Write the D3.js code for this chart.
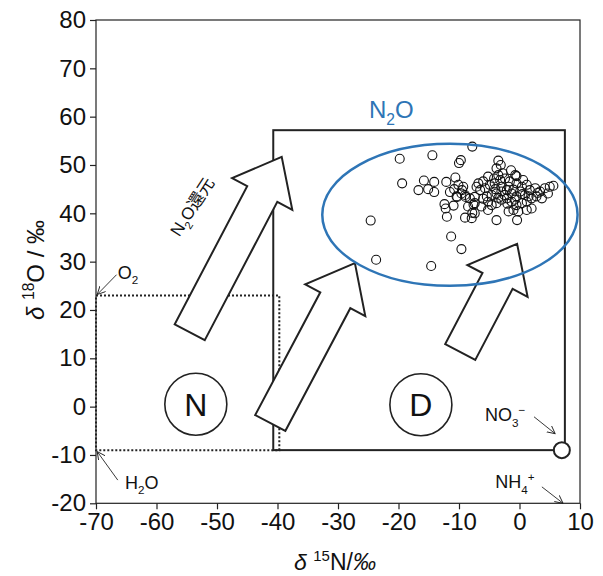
<!DOCTYPE html>
<html>
<head>
<meta charset="utf-8">
<script src="https://cdn.jsdelivr.net/npm/d3@7"></script>
<style>
body { margin: 0; background: #fff; }
svg { font-family: "Liberation Sans", Arial, sans-serif; }
</style>
</head>
<body>
<svg id="chart" width="603" height="576"></svg>
<script>
"use strict";

// axis ticks
var xTicks = [-70, -60, -50, -40, -30, -20, -10, 0, 10];
var yTicks = [-20, -10, 0, 10, 20, 30, 40, 50, 60, 70, 80];

// measured N2O (delta15N, delta18O)
var n2oD15N = [-7.8, -19.8, -14.4, -9.7, -10.0, -19.4, -15.8, -14.1, -12.1, -10.6,
    -16.7, -15.1, -14.1, -11.5, -10.8, -9.5, -10.3, -8.9, -8.2, -7.4,
    -12.4, -12.2, -10.9, -7.6, -12.0, -9.0, -7.8, -24.6, -3.8, -0.4,
    -11.3, -9.6, -23.7, -14.6,
    -3.5, -3.1, -3.8, -2.8, -3.5, -4.2, -5.2, -6.0, -6.8, -7.1,
    -6.5, -5.7, -4.9, -4.1, -3.2, -2.4, -1.6, -0.7, -0.5, 0.4,
    1.2, 0.6, 0.1, 0.9, 1.7, 2.6, 3.4, 4.2, 5.0, 5.6,
    4.7, 3.7, 2.8, 2.0, 1.2, 0.4, -0.5, -1.3, -2.1, -3.0,
    -3.8, -4.6, -5.2, -5.4, -4.6, -3.8, -3.0, -2.1, -1.3, -0.5,
    -1.8, -1.0, -0.2, 1.2, 2.0, -5.2, -6.3, -7.4, -9.0, -9.6,
    -9.3, -10.1, -10.4, -8.5, -7.4, -7.9, -3.0, -1.8, -1.4, -0.5,
    -4.0, -2.5, -1.0, 0.5, -6.0, -2.0, 1.5, -3.5, -0.8, 3.0];
var n2oD18O = [53.8, 51.3, 52.0, 51.0, 50.4, 46.2, 46.8, 46.5, 46.5, 47.4,
    44.8, 45.0, 44.4, 44.4, 45.0, 44.8, 43.4, 43.4, 43.1, 43.4,
    41.9, 41.0, 41.6, 41.8, 39.3, 39.1, 40.1, 38.5, 38.6, 38.6,
    35.2, 32.6, 30.4, 29.1,
    50.9, 50.0, 49.3, 48.3, 47.9, 47.2, 47.6, 46.6, 46.2, 45.5,
    44.8, 45.2, 45.9, 46.2, 46.9, 47.2, 46.6, 47.9, 46.2, 45.5,
    45.9, 46.9, 44.5, 43.8, 44.8, 45.2, 44.5, 45.2, 45.5, 45.7,
    44.1, 43.1, 43.5, 43.1, 42.4, 42.1, 41.7, 42.4, 43.1, 42.8,
    42.1, 41.7, 42.4, 43.5, 43.8, 44.1, 44.5, 44.8, 44.1, 43.5,
    40.4, 40.7, 40.4, 40.7, 41.0, 40.7, 41.4, 42.1, 43.8, 44.1,
    45.5, 45.9, 43.5, 41.4, 40.0, 39.0, 45.5, 45.5, 48.9, 47.7,
    45.0, 43.8, 44.9, 44.0, 43.0, 42.0, 43.5, 43.2, 42.8, 44.2];

// source ranges
var n2oBoxX = [-40.7, 7.5];
var n2oBoxY = [-9, 57.2];
var nitrBoxX = [-70, -39.7];
var nitrBoxY = [-9, 23];
var n2oEllipseCenter = [-11.5, 39.7];
var n2oEllipseRadius = [21.1, 14.7];
var no3Point = [7.0, -9.0];

// process arrows (tail -> tip)
var arrowTail = [[-54.5, 15.4], [-41.2, -3.4], [-9.8, 11.3]];
var arrowTip = [[-39.3, 51.7], [-27.2, 29.7], [-0.4, 33.7]];

// zone labels
var zoneNames = ["N", "D"];
var zoneCenters = [[-53.5, 0.5], [-16.3, 0.4]];

var svg = d3.select("#chart");
var ink = "#222";
var blue = "#2e75b6";

var x = d3.scaleLinear().domain([-70, 10]).range([96, 580]);
var y = d3.scaleLinear().domain([-20, 80]).range([503.3, 20]);

// arrow marker for the small leader lines
svg.append("defs").append("marker")
    .attr("id", "leader")
    .attr("markerUnits", "userSpaceOnUse")
    .attr("markerWidth", 10).attr("markerHeight", 10)
    .attr("refX", 8).attr("refY", 4)
    .attr("orient", "auto")
    .append("path")
    .attr("d", "M0,0 L8,4 L0,8")
    .attr("fill", "none")
    .attr("stroke", ink)
    .attr("stroke-width", 0.9);

// text with sub / superscripts
function richText(sel, parts, size)
{
    var shift = 0;
    parts.forEach(function(p){
        var t = sel.append("tspan").text(p[0]);
        var target = 0;
        if (p[1] == "sub") { target = size * 0.3; t.attr("font-size", size * 0.65); }
        if (p[1] == "sup") { target = -size * 0.4; t.attr("font-size", size * 0.65); }
        if (p[1] == "it") { t.attr("font-style", "italic"); }
        if (target != shift) { t.attr("dy", target - shift); shift = target; }
    });
}

// plot frame
svg.append("rect")
    .attr("x", x(-70)).attr("y", y(80))
    .attr("width", x(10) - x(-70)).attr("height", y(-20) - y(80))
    .attr("fill", "none").attr("stroke", ink).attr("stroke-width", 1.2);

// minor ticks (inside)
var xMinor = d3.range(-70, 10.01, 2).filter(function(d){ return d % 10 != 0; });
var yMinor = d3.range(-20, 80.01, 2).filter(function(d){ return d % 10 != 0; });

var gx = svg.append("g").attr("transform", "translate(0," + y(-20) + ")");
gx.call(d3.axisBottom(x).tickValues(xMinor).tickSize(-4).tickFormat(""));
gx.call(d3.axisBottom(x).tickValues(xTicks).tickSize(6).tickPadding(4)
    .tickFormat(function(d){ return String(d); }));
gx.selectAll(".domain").remove();
gx.selectAll("line").attr("stroke", ink).attr("stroke-width", 1.2);
gx.selectAll("text").attr("font-size", 24).attr("font-family", "Liberation Sans, Arial, sans-serif").attr("fill", "#111");

var gy = svg.append("g").attr("transform", "translate(" + x(-70) + ",0)");
gy.call(d3.axisLeft(y).tickValues(yMinor).tickSize(-4).tickFormat(""));
gy.call(d3.axisLeft(y).tickValues(yTicks).tickSize(6).tickPadding(4)
    .tickFormat(function(d){ return String(d); }));
gy.selectAll(".domain").remove();
gy.selectAll("line").attr("stroke", ink).attr("stroke-width", 1.2);
gy.selectAll("text").attr("font-size", 24).attr("font-family", "Liberation Sans, Arial, sans-serif").attr("fill", "#111");

// nitrification range (dotted)
svg.append("rect")
    .attr("x", x(nitrBoxX[0])).attr("y", y(nitrBoxY[1]))
    .attr("width", x(nitrBoxX[1]) - x(nitrBoxX[0]))
    .attr("height", y(nitrBoxY[0]) - y(nitrBoxY[1]))
    .attr("fill", "none").attr("stroke", ink)
    .attr("stroke-width", 2).attr("stroke-dasharray", "2,2");

// N2O range (solid)
svg.append("rect")
    .attr("x", x(n2oBoxX[0])).attr("y", y(n2oBoxY[1]))
    .attr("width", x(n2oBoxX[1]) - x(n2oBoxX[0]))
    .attr("height", y(n2oBoxY[0]) - y(n2oBoxY[1]))
    .attr("fill", "none").attr("stroke", ink).attr("stroke-width", 2);

// data points
svg.append("g").selectAll("circle")
    .data(d3.range(n2oD15N.length))
    .enter()
    .append("circle")
    .attr("cx", function(i){ return x(n2oD15N[i]); })
    .attr("cy", function(i){ return y(n2oD18O[i]); })
    .attr("r", 4.5)
    .attr("fill", "none")
    .attr("stroke", "#111")
    .attr("stroke-width", 1.1);

// block arrows
function blockArrow(t, h)
{
    var dx = h[0] - t[0], dy = h[1] - t[1];
    var len = Math.sqrt(dx * dx + dy * dy);
    var ux = dx / len, uy = dy / len;
    var nx = -uy, ny = ux;
    var sw = 17, hw = 34, hl = 42;
    var b = [h[0] - ux * hl, h[1] - uy * hl];
    var pts = [
        [t[0] + nx * sw, t[1] + ny * sw],
        [b[0] + nx * sw, b[1] + ny * sw],
        [b[0] + nx * hw, b[1] + ny * hw],
        h,
        [b[0] - nx * hw, b[1] - ny * hw],
        [b[0] - nx * sw, b[1] - ny * sw],
        [t[0] - nx * sw, t[1] - ny * sw]
    ];
    return "M" + pts.map(function(p){ return p[0].toFixed(1) + "," + p[1].toFixed(1); }).join("L") + "Z";
}

svg.append("g").selectAll("path")
    .data(d3.range(arrowTail.length))
    .enter()
    .append("path")
    .attr("d", function(i){
        return blockArrow([x(arrowTail[i][0]), y(arrowTail[i][1])],
                          [x(arrowTip[i][0]), y(arrowTip[i][1])]);
    })
    .attr("fill", "#fff")
    .attr("stroke", ink)
    .attr("stroke-width", 2)
    .attr("stroke-linejoin", "miter");

// N2O ellipse
svg.append("ellipse")
    .attr("cx", x(n2oEllipseCenter[0]))
    .attr("cy", y(n2oEllipseCenter[1]))
    .attr("rx", x(n2oEllipseRadius[0]) - x(0))
    .attr("ry", y(0) - y(n2oEllipseRadius[1]))
    .attr("fill", "none")
    .attr("stroke", blue)
    .attr("stroke-width", 2.5);

// NO3- point
svg.append("circle")
    .attr("cx", x(no3Point[0])).attr("cy", y(no3Point[1]))
    .attr("r", 8)
    .attr("fill", "#fff").attr("stroke", ink).attr("stroke-width", 2);

// N / D zone circles
var zones = svg.append("g").selectAll("g")
    .data(d3.range(zoneNames.length))
    .enter()
    .append("g")
    .attr("transform", function(i){
        return "translate(" + x(zoneCenters[i][0]) + "," + y(zoneCenters[i][1]) + ")";
    });
zones.append("circle").attr("r", 31)
    .attr("fill", "none").attr("stroke", ink).attr("stroke-width", 1.6);
zones.append("text")
    .attr("text-anchor", "middle").attr("dy", "0.36em")
    .attr("font-size", 32).attr("fill", "#111")
    .text(function(i){ return zoneNames[i]; });

// N2O label
var n2oLabel = svg.append("text")
    .attr("x", x(-21.2)).attr("y", y(59.7))
    .attr("text-anchor", "middle")
    .attr("font-size", 24).attr("fill", blue);
richText(n2oLabel, [["N"], ["2", "sub"], ["O"]], 24);

// N2O reduction label along first arrow
var redLabel = svg.append("text")
    .attr("transform", "translate(" + x(-53.3) + "," + y(40.7) + ") rotate(-57)")
    .attr("text-anchor", "middle")
    .attr("font-size", 17).attr("fill", "#111")
    .attr("font-family", "'Liberation Sans', 'Noto Sans CJK JP', sans-serif");
richText(redLabel, [["N"], ["2", "sub"], ["O還元"]], 17);

// leader lines
var leaderFrom = [[-66.6, 27.3], [-66.4, -15.2], [2.4, -2.1], [3.7, -16.6]];
var leaderTo = [[-69.8, 23.2], [-69.8, -9.3], [5.9, -5.6], [7.2, -20.0]];
svg.append("g").selectAll("line")
    .data(d3.range(leaderFrom.length))
    .enter()
    .append("line")
    .attr("x1", function(i){ return x(leaderFrom[i][0]); })
    .attr("y1", function(i){ return y(leaderFrom[i][1]); })
    .attr("x2", function(i){ return x(leaderTo[i][0]); })
    .attr("y2", function(i){ return y(leaderTo[i][1]); })
    .attr("stroke", ink).attr("stroke-width", 0.9)
    .attr("marker-end", "url(#leader)");

var species = [
    { pos: [-66.4, 26.4], parts: [["O"], ["2", "sub"]] },
    { pos: [-65.2, -17.0], parts: [["H"], ["2", "sub"], ["O"]] },
    { pos: [-5.7, -3.0], parts: [["NO"], ["3", "sub"], ["\u2212", "sup"]] },
    { pos: [-4.0, -16.9], parts: [["NH"], ["4", "sub"], ["+", "sup"]] }
];
species.forEach(function(s){
    var t = svg.append("text")
        .attr("x", x(s.pos[0])).attr("y", y(s.pos[1]))
        .attr("font-size", 18).attr("fill", "#111");
    richText(t, s.parts, 18);
});

// axis titles
var xTitle = svg.append("text")
    .attr("x", 335).attr("y", 570)
    .attr("text-anchor", "middle")
    .attr("font-size", 23).attr("fill", "#111");
richText(xTitle, [["\u03b4", "it"], [" "], ["15", "sup"], ["N/"], ["\u2030", "it"]], 23);

var yTitle = svg.append("text")
    .attr("transform", "translate(44,270) rotate(-90)")
    .attr("text-anchor", "middle")
    .attr("font-size", 24).attr("fill", "#111");
richText(yTitle, [["\u03b4", "it"], [" "], ["18", "sup"], ["O / \u2030"]], 24);
</script>
</body>
</html>
